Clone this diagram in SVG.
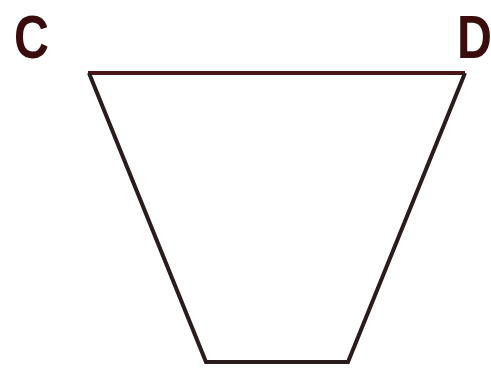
<svg xmlns="http://www.w3.org/2000/svg" width="491" height="370" viewBox="0 0 491 370">
<style>
.lbl{font-family:"Liberation Sans",Arial,sans-serif;font-weight:bold;font-size:62px;fill:#3a0c0e}
</style>
<rect width="491" height="370" fill="#ffffff"/>
<g id="connectors">
<line x1="88" y1="73" x2="465" y2="73" stroke="#4a1418" stroke-width="4"/>
<polyline points="89,73 206,362 348,362 465,73" fill="none" stroke="#2a1c1c" stroke-width="4" stroke-linejoin="miter"/>
</g>
<g id="C"><text class="lbl" transform="translate(14,58) scale(0.78,1)">C</text></g>
<g id="D"><text class="lbl" transform="translate(457,58) scale(0.78,1)">D</text></g>
</svg>
